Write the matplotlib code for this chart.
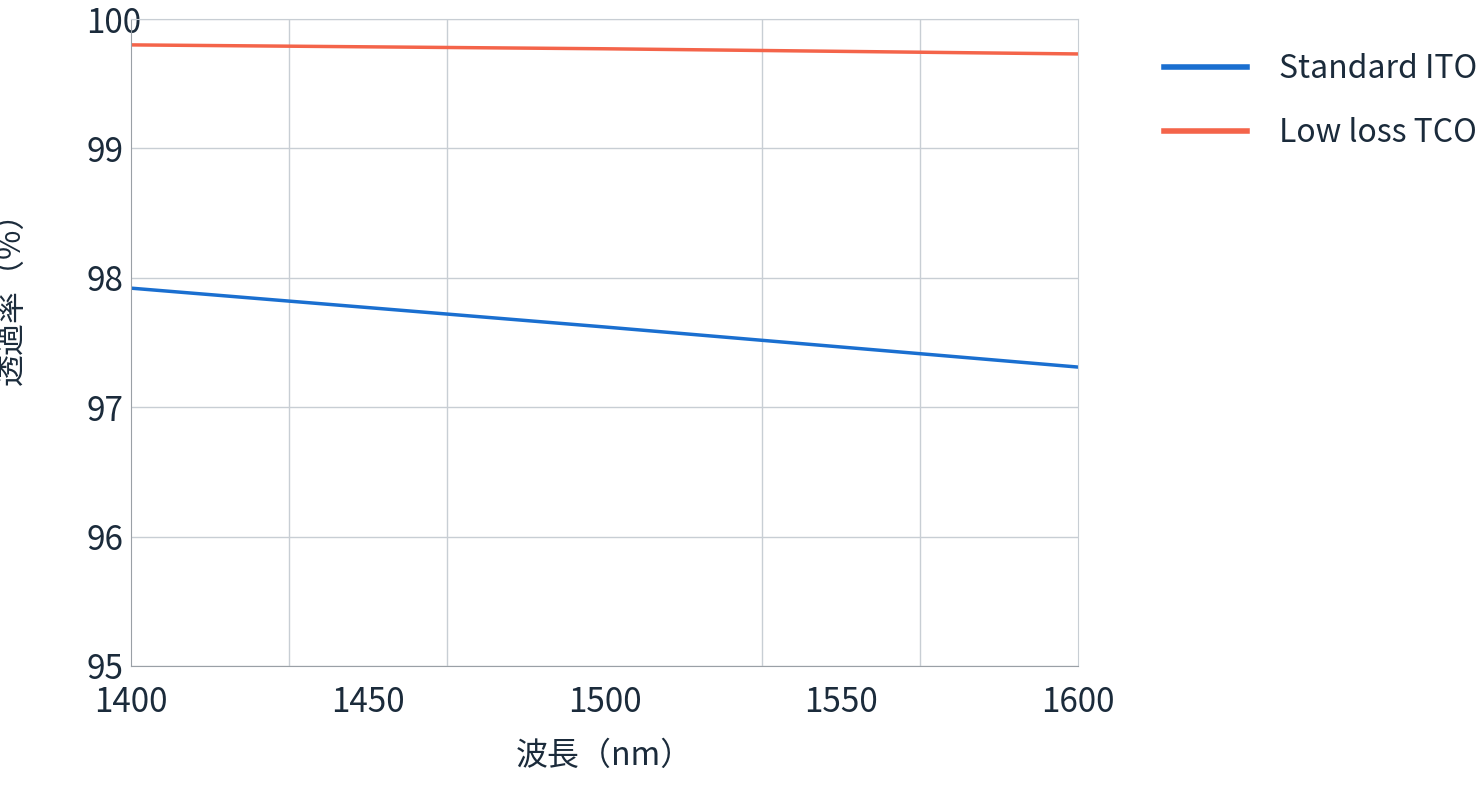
import matplotlib
matplotlib.use('Agg')
import matplotlib.pyplot as plt
import numpy as np

plt.rcParams['font.family'] = ['Noto Sans CJK JP', 'DejaVu Sans']

wavelength = [1400, 1500, 1600]
standard_ito = [97.92, 97.62, 97.31]
low_loss_tco = [99.80, 99.77, 99.73]

text_color = '#1b2b3b'

fig = plt.figure(figsize=(14.8, 8.09), dpi=100)
ax = fig.add_axes([0.0885, 0.1768, 0.6399, 0.7997])

ax.plot(wavelength, standard_ito, color='#1a6fd0', lw=2.5, label='Standard ITO')
ax.plot(wavelength, low_loss_tco, color='#f4644a', lw=2.5, label='Low loss TCO')

ax.set_xlim(1400, 1600)
ax.set_ylim(95, 100)
ax.set_xticks(np.linspace(1400, 1600, 7), minor=True)
ax.set_xticks([1400, 1450, 1500, 1550, 1600])
ax.set_yticks([95, 96, 97, 98, 99, 100])
ax.grid(False)
ax.grid(True, which='minor', axis='x', color='#c8ced4', lw=1)
ax.grid(True, which='major', axis='y', color='#c8ced4', lw=1)
ax.tick_params(which='both', length=0, labelsize=24, colors=text_color)
ax.tick_params(axis='x', pad=14)
ax.tick_params(axis='y', pad=32)
for lbl in ax.get_yticklabels():
    lbl.set_horizontalalignment('left')
for s in ['top', 'right']:
    ax.spines[s].set_color('#c8ced4')
for s in ['left', 'bottom']:
    ax.spines[s].set_color('#9aa0a6')

ax.set_xlabel('波長（nm）', fontsize=23, color=text_color, labelpad=14)
ax.set_ylabel('透過率（%）', fontsize=23, color=text_color, labelpad=6)
ax.yaxis.set_label_coords(-0.11, 0.58)

leg = fig.legend(loc='upper left', bbox_to_anchor=(0.767, 0.97), frameon=False,
                 fontsize=23, labelcolor=text_color, handlelength=2.6,
                 handletextpad=1.0, labelspacing=1.0)
for h in leg.get_lines():
    h.set_linewidth(4)

fig.savefig('out.png', dpi=100)
